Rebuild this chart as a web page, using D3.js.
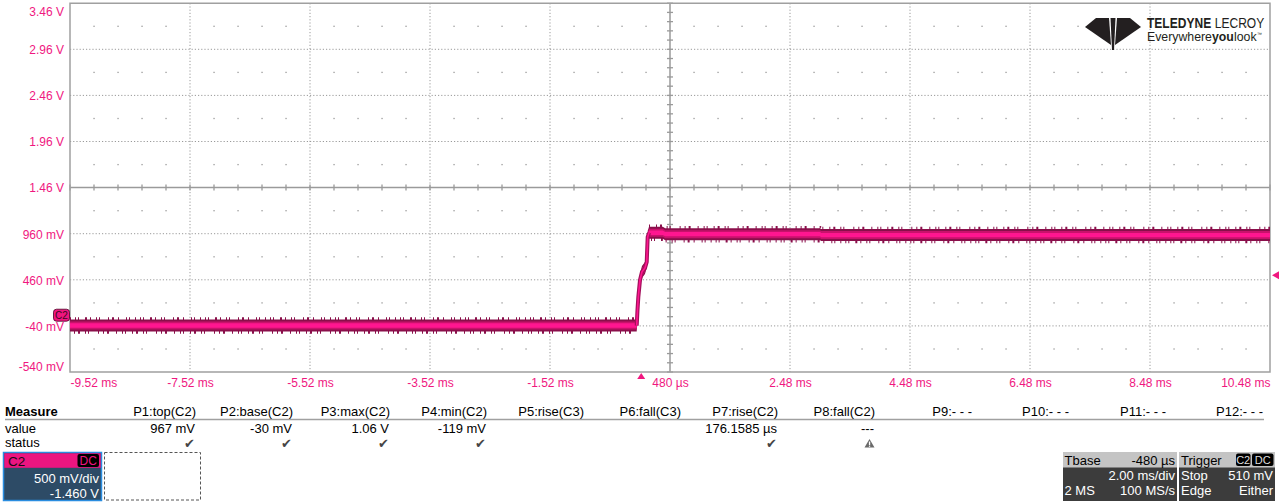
<!DOCTYPE html>
<html><head><meta charset="utf-8">
<script src="https://cdn.jsdelivr.net/npm/d3@7/dist/d3.min.js"></script>
<style>
html,body{margin:0;padding:0;background:#fff;}
svg{display:block;font-family:"Liberation Sans",Arial,sans-serif;}
</style></head>
<body>
<svg id="c" width="1280" height="502"></svg>
<script>
// ---------- data ----------
const yTickValues = [3.46, 2.96, 2.46, 1.96, 1.46, 0.96, 0.46, -0.04, -0.54];
const yTickLabels = ["3.46 V","2.96 V","2.46 V","1.96 V","1.46 V","960 mV","460 mV","-40 mV","-540 mV"];
const xTickValues = [-9.52, -7.52, -5.52, -3.52, -1.52, 0.48, 2.48, 4.48, 6.48, 8.48, 10.48];
const xTickLabels = ["-9.52 ms","-7.52 ms","-5.52 ms","-3.52 ms","-1.52 ms","480 µs","2.48 ms","4.48 ms","6.48 ms","8.48 ms","10.48 ms"];
// C2 trace (time in ms, volts)
const traceTime  = [-9.52, -0.075, -0.062, -0.048, -0.02, 0.013, 0.063, 0.092, 0.108, 0.13, 0.36, 0.40, 2.98, 3.0, 10.48];
const traceVolts = [-0.036, -0.036, 0.132, 0.273, 0.458, 0.545, 0.588, 0.653, 0.924, 0.97, 0.97, 0.955, 0.955, 0.945, 0.945];
const triggerTime = 0, triggerLevel = 0.51, groundLevel = 0;
// measurements
const measureNames  = ["P1:top(C2)","P2:base(C2)","P3:max(C2)","P4:min(C2)","P5:rise(C3)","P6:fall(C3)","P7:rise(C2)","P8:fall(C2)","P9:- - -","P10:- - -","P11:- - -","P12:- - -"];
const measureValues = ["967 mV","-30 mV","1.06 V","-119 mV","","","176.1585 µs","---","","","",""];
const measureStatus = ["ok","ok","ok","ok","","","ok","warn","","","",""];

// ---------- layout ----------
const svg = d3.select("#c");
const L = 70, R = 1270, T = 3.2, B = 372;
const x = d3.scaleLinear([-9.52, 10.48], [L, R]);
const y = d3.scaleLinear([-0.54, 3.46], [B, T]);
const pink = "#f0177f", gridC = "#9a9a9a";

// grid
const g = svg.append("g");
const xGrid = d3.range(-9.52, 10.49, 2);
const yGrid = d3.range(-0.54, 3.47, 0.5);
xGrid.slice(1, -1).forEach(v => {
  if (Math.abs(v - 0.48) < 1e-6) return;
  g.append("line").attr("x1", x(v)).attr("x2", x(v)).attr("y1", T).attr("y2", B)
    .attr("stroke", gridC).attr("stroke-width", 1).attr("stroke-dasharray", "1.2,2");
});
yGrid.slice(1, -1).forEach(v => {
  if (Math.abs(v - 1.46) < 1e-6) return;
  g.append("line").attr("x1", L).attr("x2", R).attr("y1", y(v)).attr("y2", y(v))
    .attr("stroke", gridC).attr("stroke-width", 1).attr("stroke-dasharray", "1.2,2");
});
// half-division dot rows
yGrid.slice(0, -1).forEach(v => {
  const yy = y(v + 0.25);
  d3.range(-9.52, 10.48, 0.4).forEach((t, i) => {
    if (i % 5 === 0) return;
    g.append("rect").attr("x", x(t) - 0.6).attr("y", yy - 0.6).attr("width", 1.3).attr("height", 1.3).attr("fill", gridC);
  });
});
// center axes with ticks
g.append("line").attr("x1", x(0.48)).attr("x2", x(0.48)).attr("y1", T).attr("y2", B).attr("stroke", gridC).attr("stroke-width", 1.5);
g.append("line").attr("x1", L).attr("x2", R).attr("y1", y(1.46)).attr("y2", y(1.46)).attr("stroke", gridC).attr("stroke-width", 1.5);
d3.range(-0.54, 3.461, 0.1).forEach(v => {
  g.append("line").attr("x1", x(0.48) - 3).attr("x2", x(0.48) + 3).attr("y1", y(v)).attr("y2", y(v)).attr("stroke", gridC).attr("stroke-width", 1.3);
});
d3.range(-9.52, 10.481, 0.4).forEach(t => {
  g.append("line").attr("x1", x(t)).attr("x2", x(t)).attr("y1", y(1.46) - 3).attr("y2", y(1.46) + 3).attr("stroke", gridC).attr("stroke-width", 1.3);
});
// frame
g.append("path").attr("d", `M${L},${T}H${R}V${B}H${L}Z`).attr("fill", "none").attr("stroke", "#a0a0a0").attr("stroke-width", 1.5);

// axes labels
const yAxis = svg.append("g").attr("transform", `translate(${L - 6},0)`)
  .call(d3.axisLeft(y).tickValues(yTickValues).tickFormat((d, i) => yTickLabels[i]).tickSize(0).tickPadding(0));
yAxis.select(".domain").remove();
yAxis.selectAll("text").attr("fill", pink).attr("font-size", 12).attr("font-family", "Liberation Sans, Arial")
  .attr("dy", (d, i) => i === 0 ? "1.05em" : (i === yTickValues.length - 1 ? "-0.1em" : "0.36em"));
const xAxis = svg.append("g").attr("transform", `translate(0,${B + 6})`)
  .call(d3.axisBottom(x).tickValues(xTickValues).tickFormat((d, i) => xTickLabels[i]).tickSize(0).tickPadding(0));
xAxis.select(".domain").remove();
xAxis.selectAll("text").attr("fill", pink).attr("font-size", 12).attr("font-family", "Liberation Sans, Arial")
  .attr("dy", "0.72em")
  .attr("text-anchor", (d, i) => i === 0 ? "start" : (i === xTickValues.length - 1 ? "end" : "middle"));

// ---------- trace ----------
const pts = traceTime.map((t, i) => ({t, v: traceVolts[i]}));
const band = (h) => d3.area().x(d => x(d.t)).y0(d => y(d.v) + h).y1(d => y(d.v) - h);
const tr = svg.append("g");
const baseSeg = pts.filter(d => d.t <= -0.075), topSeg = pts.filter(d => d.t >= 0.13);
const off = (h) => d3.line().x(d => x(d.t)).y(d => y(d.v) + h);
const spikeA = "1,4,1,2,1,6,2,3,1,5,1,2,1,8,1,3,2,4,1,7,1,2,1,5";
const spikeB = "1,6,1,3,2,5,1,2,1,9,1,4,1,3,2,7,1,5,1,2";
[baseSeg, topSeg].forEach((seg, k) => {
  tr.append("path").attr("d", off(-6.5)(seg)).attr("fill", "none").attr("stroke", "#8a0f4b").attr("stroke-width", 3.5)
    .attr("stroke-dasharray", k ? spikeB : spikeA);
  tr.append("path").attr("d", off(6.5)(seg)).attr("fill", "none").attr("stroke", "#8a0f4b").attr("stroke-width", 3.5)
    .attr("stroke-dasharray", k ? spikeA : spikeB).attr("stroke-dashoffset", 3);
});
tr.append("path").attr("d", band(6)(pts)).attr("fill", "#8a0f4b");
tr.append("path").attr("d", band(4)(pts)).attr("fill", "#c8126c");
tr.append("path").attr("d", band(2.2)(pts)).attr("fill", "#ff1690");
const rise = pts.filter(d => d.t >= -0.075 && d.t <= 0.13);
tr.append("path").attr("d", d3.line().x(d => x(d.t)).y(d => y(d.v))(rise)).attr("fill", "none").attr("stroke", "#a3105c").attr("stroke-width", 4);
tr.append("path").attr("d", d3.line().x(d => x(d.t)).y(d => y(d.v))(rise)).attr("fill", "none").attr("stroke", "#ff1690").attr("stroke-width", 1.6);

// markers
const tx = x(triggerTime);
svg.append("path").attr("d", `M${tx - 4},${B + 7}L${tx + 4},${B + 7}L${tx},${B + 1}Z`).attr("fill", pink);
const ty = y(triggerLevel);
svg.append("path").attr("d", `M${R + 2},${ty}L${R + 9},${ty - 4}L${R + 9},${ty + 4}Z`).attr("fill", pink);
const gy = y(groundLevel);
svg.append("rect").attr("x", 53.5).attr("y", gy - 13).attr("width", 16).attr("height", 12).attr("rx", 3)
  .attr("fill", "#f0157f").attr("stroke", "#4a0025").attr("stroke-width", 0.8);
svg.append("text").attr("x", 61.5).attr("y", gy - 3).attr("text-anchor", "middle").attr("font-size", 10).attr("fill", "#3a0a22").text("C2");

// ---------- logo ----------
const lg = svg.append("g").attr("fill", "#231f20");
lg.append("path").attr("d", "M1085,27 L1096,18 L1109,18 L1111,45 Z");
lg.append("path").attr("d", "M1141,27 L1130,18 L1117,18 L1115,45 Z");
lg.append("path").attr("d", "M1110.5,18 L1115.5,18 L1114,50 L1112,50 Z");
const lt = svg.append("g").attr("transform", "translate(1147,28) scale(0.86,1)").attr("font-size", 14).attr("fill", "#231f20");
lt.append("text").attr("x", 0).attr("y", 0).attr("font-weight", "bold").text("TELEDYNE");
lt.append("text").attr("x", 78.8).attr("y", 0).text("LECROY");
const lt2 = svg.append("g").attr("transform", "translate(1147,40.5)").attr("font-size", 12.3).attr("fill", "#231f20");
lt2.append("text").attr("x", 0).attr("y", 0).text("Everywhere");
lt2.append("text").attr("x", 65).attr("y", 0).attr("font-weight", "bold").text("you");
lt2.append("text").attr("x", 87).attr("y", 0).text("look");
lt2.append("text").attr("x", 110).attr("y", -5).attr("font-size", 5).text("™");

// ---------- measure table ----------
const mt = svg.append("g").attr("font-size", 13).attr("fill", "#000");
mt.append("text").attr("x", 5).attr("y", 415.5).attr("font-weight", "bold").text("Measure");
mt.append("text").attr("x", 5).attr("y", 432.5).text("value");
mt.append("text").attr("x", 5).attr("y", 446.5).text("status");
mt.append("line").attr("x1", 5).attr("x2", 1264).attr("y1", 419.5).attr("y2", 419.5).attr("stroke", "#a0a0a0").attr("stroke-width", 1.5);
const colX = d3.scaleLinear([0, 11], [196, 1263]);
measureNames.forEach((n, i) => {
  mt.append("text").attr("x", colX(i)).attr("y", 415.5).attr("text-anchor", "end").text(n);
  if (measureValues[i]) mt.append("text").attr("x", colX(i) - 1).attr("y", 432.5).attr("text-anchor", "end").text(measureValues[i]);
  if (measureStatus[i] === "ok")
    mt.append("text").attr("x", colX(i) - 1).attr("y", 447.5).attr("text-anchor", "end").attr("font-family", "DejaVu Sans")
      .attr("font-size", 13).attr("fill", "#454545").text("✔");
  if (measureStatus[i] === "warn") {
    const cx = colX(i) - 5.5;
    mt.append("path").attr("d", `M${cx},439 L${cx + 5},447.5 L${cx - 5},447.5 Z`).attr("fill", "#6a6a6a");
    mt.append("rect").attr("x", cx - 0.6).attr("y", 441.5).attr("width", 1.3).attr("height", 3.5).attr("fill", "#fff");
    mt.append("rect").attr("x", cx - 0.6).attr("y", 445.6).attr("width", 1.3).attr("height", 1.2).attr("fill", "#fff");
  }
});

// ---------- channel box ----------
const cb = svg.append("g");
cb.append("rect").attr("x", 3.5).attr("y", 452.5).attr("width", 98).attr("height", 48).attr("fill", "#2d4b66").attr("stroke", "#2a8de0").attr("stroke-width", 1.5);
cb.append("rect").attr("x", 4.3).attr("y", 453.3).attr("width", 96.4).attr("height", 14.5).attr("fill", "#ec1580");
cb.append("text").attr("x", 8).attr("y", 465.5).attr("font-size", 13.5).attr("fill", "#1a0a14").text("C2");
cb.append("rect").attr("x", 77.5).attr("y", 454).attr("width", 21.5).attr("height", 13).attr("rx", 2).attr("fill", "#000");
cb.append("text").attr("x", 88.2).attr("y", 465).attr("text-anchor", "middle").attr("font-size", 12).attr("fill", "#ec1580").text("DC");
cb.append("text").attr("x", 99).attr("y", 483).attr("text-anchor", "end").attr("font-size", 13).attr("fill", "#fff").text("500 mV/div");
cb.append("text").attr("x", 99).attr("y", 498).attr("text-anchor", "end").attr("font-size", 13).attr("fill", "#fff").text("-1.460 V");
cb.append("rect").attr("x", 104.5).attr("y", 452.5).attr("width", 96).attr("height", 47.5).attr("fill", "none").attr("stroke", "#555").attr("stroke-width", 1).attr("stroke-dasharray", "3,2");

// ---------- timebase / trigger boxes ----------
const tb = svg.append("g").attr("font-size", 13);
tb.append("rect").attr("x", 1063).attr("y", 452).attr("width", 114).attr("height", 49).attr("fill", "#3c3c3c");
tb.append("rect").attr("x", 1063).attr("y", 452).attr("width", 114).attr("height", 15.5).attr("fill", "#c4c4c4");
tb.append("text").attr("x", 1064.5).attr("y", 465).attr("fill", "#000").text("Tbase");
tb.append("text").attr("x", 1175).attr("y", 465).attr("text-anchor", "end").attr("fill", "#000").text("-480 µs");
tb.append("text").attr("x", 1175).attr("y", 480).attr("text-anchor", "end").attr("fill", "#fff").text("2.00 ms/div");
tb.append("text").attr("x", 1064.5).attr("y", 495).attr("fill", "#fff").text("2 MS");
tb.append("text").attr("x", 1175).attr("y", 495).attr("text-anchor", "end").attr("fill", "#fff").text("100 MS/s");
tb.append("rect").attr("x", 1179).attr("y", 452).attr("width", 96).attr("height", 49).attr("fill", "#3c3c3c");
tb.append("rect").attr("x", 1179).attr("y", 452).attr("width", 96).attr("height", 15.5).attr("fill", "#c4c4c4");
tb.append("text").attr("x", 1181).attr("y", 465).attr("fill", "#000").text("Trigger");
tb.append("rect").attr("x", 1236).attr("y", 453.5).attr("width", 14.5).attr("height", 12.5).attr("rx", 2).attr("fill", "#000");
tb.append("rect").attr("x", 1252).attr("y", 453.5).attr("width", 21.5).attr("height", 12.5).attr("rx", 2).attr("fill", "#000");
tb.append("text").attr("x", 1243.2).attr("y", 464).attr("text-anchor", "middle").attr("font-size", 11).attr("fill", "#ddd").text("C2");
tb.append("text").attr("x", 1262.7).attr("y", 464).attr("text-anchor", "middle").attr("font-size", 11).attr("fill", "#ddd").text("DC");
tb.append("text").attr("x", 1181).attr("y", 480).attr("fill", "#fff").text("Stop");
tb.append("text").attr("x", 1273).attr("y", 480).attr("text-anchor", "end").attr("fill", "#fff").text("510 mV");
tb.append("text").attr("x", 1181).attr("y", 495).attr("fill", "#fff").text("Edge");
tb.append("text").attr("x", 1273).attr("y", 495).attr("text-anchor", "end").attr("fill", "#fff").text("Either");
</script>
</body></html>
